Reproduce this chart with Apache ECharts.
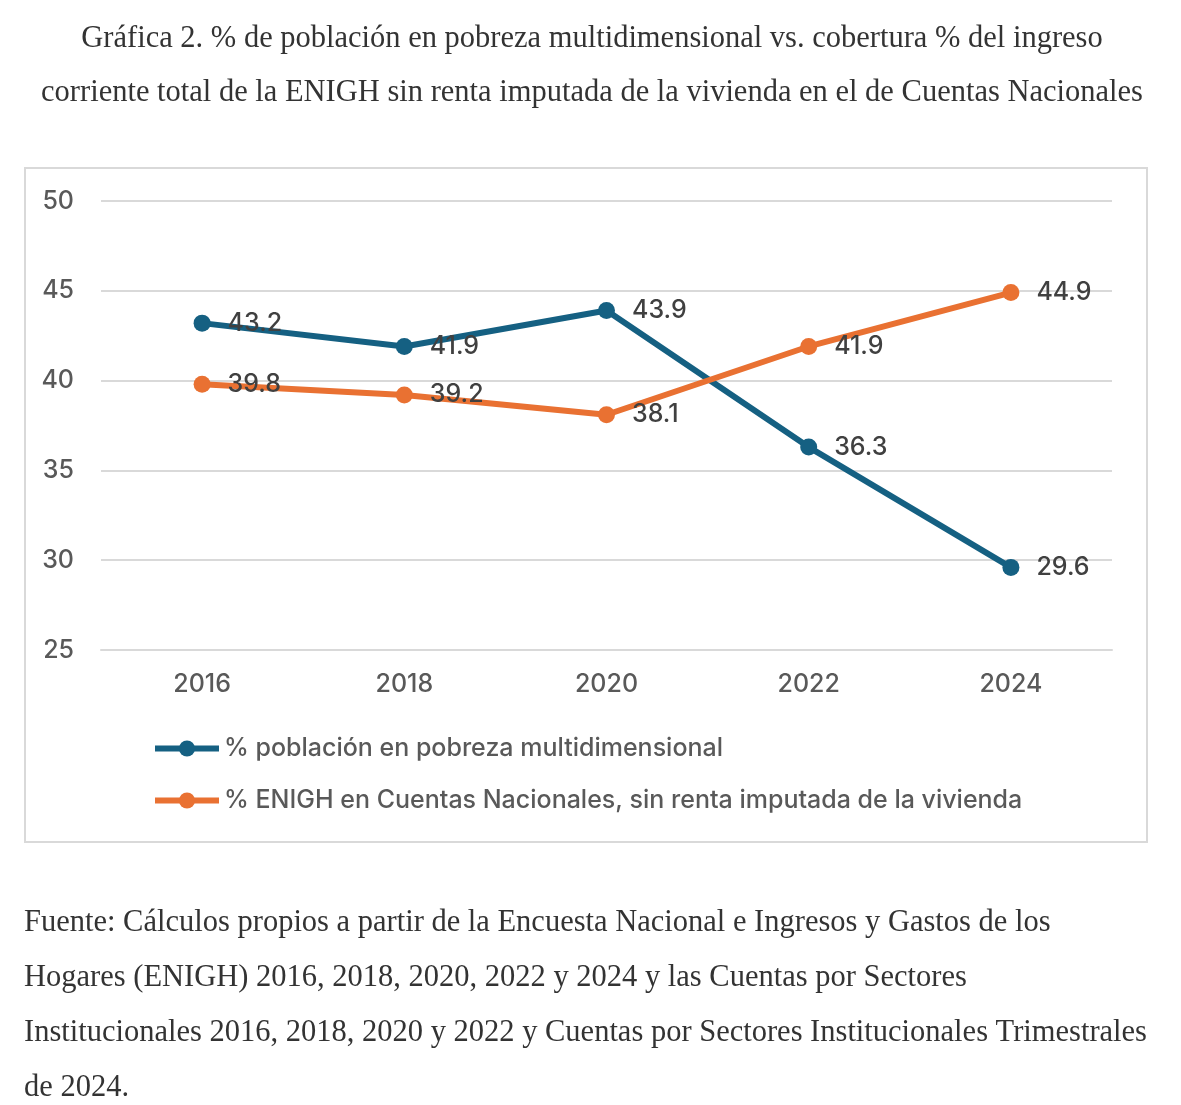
<!DOCTYPE html>
<html><head><meta charset="utf-8">
<script src="https://cdn.jsdelivr.net/npm/echarts@6/dist/echarts.min.js"></script>
<style>html,body{margin:0;padding:0;background:#fff}#c{width:1181px;height:1105px}</style>
</head><body><div id="c"></div>
<script>
const categories = ['2016','2018','2020','2022','2024'];
const pobreza = [43.2, 41.9, 43.9, 36.3, 29.6];
const enigh = [39.8, 39.2, 38.1, 41.9, 44.9];
const seriesNames = ['% población en pobreza multidimensional', '% ENIGH en Cuentas Nacionales, sin renta imputada de la vivienda'];
const titleText = 'Gráfica 2. % de población en pobreza multidimensional vs. cobertura % del ingreso\ncorriente total de la ENIGH sin renta imputada de la vivienda en el de Cuentas Nacionales';
const sourceText = 'Fuente: Cálculos propios a partir de la Encuesta Nacional e Ingresos y Gastos de los\nHogares (ENIGH) 2016, 2018, 2020, 2022 y 2024 y las Cuentas por Sectores\nInstitucionales 2016, 2018, 2020 y 2022 y Cuentas por Sectores Institucionales Trimestrales\nde 2024.';

const chart = echarts.init(document.getElementById('c'));
const sans = 'Inter, "Open Sans", sans-serif';
const serif = '"Liberation Serif", "DejaVu Serif", serif';
function mkSeries(name, data, color) {
  return {
    name, type: 'line', data,
    symbol: 'circle', symbolSize: 17,
    lineStyle: { width: 6, color },
    itemStyle: { color },
    label: { show: true, position: 'right', distance: 17, fontFamily: sans, fontSize: 25, fontWeight: 500, color: '#404040' },
    z: 3
  };
}
chart.setOption({
  backgroundColor: '#fff',
  animation: false,
  title: [
    { text: titleText, left: 587, top: 7, textAlign: 'center',
      textStyle: { fontFamily: serif, fontSize: 30.5, fontWeight: 'normal', color: '#333', lineHeight: 54 } },
    { text: sourceText, left: 19, top: 890,
      textStyle: { fontFamily: serif, fontSize: 30.5, fontWeight: 'normal', color: '#333', lineHeight: 55 } }
  ],
  graphic: [
    { type: 'rect', shape: { x: 25, y: 168, width: 1122, height: 674 }, style: { fill: 'none', stroke: '#d9d9d9', lineWidth: 2 }, z: -1 }
  ],
  grid: { left: 101, right: 69, top: 201, bottom: 455 },
  legend: {
    orient: 'vertical', left: 147, top: 731, itemWidth: 64, itemHeight: 20, itemGap: 27,
    textStyle: { fontFamily: sans, fontSize: 25, fontWeight: 500, color: '#595959' },
    lineStyle: { width: 6 },
    data: seriesNames
  },
  xAxis: {
    type: 'category', data: categories, boundaryGap: true,
    axisLine: { show: true, lineStyle: { color: '#d9d9d9', width: 2 } },
    axisTick: { show: false },
    axisLabel: { fontFamily: sans, fontSize: 25, fontWeight: 500, color: '#595959', margin: 22 }
  },
  yAxis: {
    type: 'value', min: 25, max: 50, interval: 5,
    axisLine: { show: false }, axisTick: { show: false },
    splitLine: { lineStyle: { color: '#d9d9d9', width: 2 } },
    axisLabel: { fontFamily: sans, fontSize: 25, fontWeight: 500, color: '#595959', margin: 27 }
  },
  series: [
    mkSeries(seriesNames[0], pobreza, '#156082'),
    mkSeries(seriesNames[1], enigh, '#E97132')
  ]
});
</script></body></html>
